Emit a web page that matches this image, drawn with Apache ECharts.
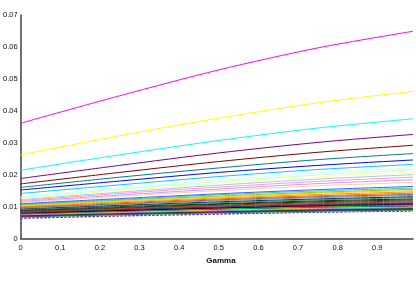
<!DOCTYPE html>
<html><head><meta charset="utf-8">
<script src="https://cdn.jsdelivr.net/npm/echarts@6/dist/echarts.min.js"></script>
<style>html,body{margin:0;padding:0;background:#fff}#c{width:416px;height:282px}</style>
</head><body><div id="c"></div>
<script>
const gamma = [0, 0.25, 0.5, 0.75, 0.99];
const yTicks = [0, 0.01, 0.02, 0.03, 0.04, 0.05, 0.06, 0.07];
const xTicks = [0, 0.1, 0.2, 0.3, 0.4, 0.5, 0.6, 0.7, 0.8, 0.9];

const line01 = [0.0361, 0.0447, 0.0528, 0.0597, 0.0649];
const line02 = [0.0262, 0.0322, 0.0377, 0.0425, 0.0461];
const line03 = [0.0214, 0.0262, 0.0307, 0.0346, 0.0375];
const line04 = [0.0188, 0.0229, 0.0268, 0.0301, 0.0326];
const line05 = [0.0171, 0.0207, 0.0241, 0.0270, 0.0292];
const line06 = [0.0160, 0.0192, 0.0221, 0.0247, 0.0266];
const line07 = [0.0152, 0.0180, 0.0207, 0.0229, 0.0246];
const line08 = [0.0141, 0.0168, 0.0194, 0.0216, 0.0232];
const line09 = [0.0131, 0.0158, 0.0183, 0.0205, 0.0221];
const line10 = [0.0128, 0.0154, 0.0178, 0.0199, 0.0215];
const line11 = [0.0125, 0.0150, 0.0173, 0.0193, 0.0208];
const line12 = [0.0122, 0.0145, 0.0167, 0.0186, 0.0200];
const line13 = [0.0119, 0.0141, 0.0161, 0.0179, 0.0192];
const line14 = [0.0116, 0.0136, 0.0155, 0.0172, 0.0184];
const line15 = [0.0113, 0.0132, 0.0150, 0.0165, 0.0176];
const line16 = [0.0109, 0.0125, 0.0140, 0.0153, 0.0163];
const line17 = [0.0107, 0.0122, 0.0137, 0.0149, 0.0158];
const line18 = [0.0105, 0.0120, 0.0133, 0.0145, 0.0154];
const line19 = [0.0103, 0.0117, 0.0130, 0.0142, 0.0150];
const line20 = [0.0101, 0.0115, 0.0127, 0.0138, 0.0146];
const line21 = [0.0099, 0.0112, 0.0124, 0.0134, 0.0142];
const line22 = [0.0097, 0.0109, 0.0121, 0.0131, 0.0138];
const line23 = [0.0095, 0.0107, 0.0118, 0.0128, 0.0135];
const line24 = [0.0093, 0.0104, 0.0115, 0.0124, 0.0131];
const line25 = [0.0091, 0.0102, 0.0112, 0.0121, 0.0128];
const line26 = [0.0089, 0.0100, 0.0109, 0.0118, 0.0124];
const line27 = [0.0087, 0.0097, 0.0107, 0.0115, 0.0121];
const line28 = [0.0085, 0.0095, 0.0104, 0.0112, 0.0118];
const line29 = [0.0083, 0.0093, 0.0102, 0.0109, 0.0115];
const line30 = [0.0082, 0.0091, 0.0099, 0.0107, 0.0112];
const line31 = [0.0081, 0.0090, 0.0098, 0.0105, 0.0110];
const line32 = [0.0080, 0.0088, 0.0096, 0.0103, 0.0108];
const line33 = [0.0079, 0.0087, 0.0095, 0.0101, 0.0106];
const line34 = [0.0078, 0.0086, 0.0093, 0.0099, 0.0104];
const line35 = [0.0077, 0.0085, 0.0092, 0.0098, 0.0102];
const line36 = [0.0076, 0.0083, 0.0090, 0.0096, 0.0100];
const line37 = [0.0075, 0.0082, 0.0089, 0.0095, 0.0099];
const line38 = [0.0074, 0.0081, 0.0087, 0.0093, 0.0097];
const line39 = [0.0073, 0.0080, 0.0086, 0.0092, 0.0096];
const line40 = [0.0072, 0.0079, 0.0085, 0.0090, 0.0094];
const line41 = [0.0071, 0.0078, 0.0084, 0.0089, 0.0093];
const line42 = [0.0070, 0.0077, 0.0083, 0.0088, 0.0092];
const line43 = [0.0069, 0.0076, 0.0082, 0.0087, 0.0091];
const line44 = [0.0068, 0.0075, 0.0081, 0.0086, 0.0090];
const line45 = [0.0067, 0.0074, 0.0080, 0.0085, 0.0089];
const line46 = [0.0066, 0.0073, 0.0079, 0.0084, 0.0088];
const line47 = [0.0065, 0.0072, 0.0078, 0.0083, 0.0087];
const line48 = [0.0064, 0.0071, 0.0077, 0.0083, 0.0087];
const line49 = [0.0064, 0.0071, 0.0077, 0.0082, 0.0086];
const line50 = [0.0063, 0.0070, 0.0076, 0.0082, 0.0086];

const lines = [line01,line02,line03,line04,line05,line06,line07,line08,line09,line10,
  line11,line12,line13,line14,line15,line16,line17,line18,line19,line20,
  line21,line22,line23,line24,line25,line26,line27,line28,line29,line30,
  line31,line32,line33,line34,line35,line36,line37,line38,line39,line40,
  line41,line42,line43,line44,line45,line46,line47,line48,line49,line50];

const lineColors = ['#FF00FF','#FFFF00','#00FFFF','#800080','#800000','#008080','#0000FF','#00CCFF',
  '#CCFFFF','#CCFFCC','#FFFF99','#99CCFF','#FF99CC','#CC99FF','#FFCC99',
  '#3366FF','#33CCCC','#99CC00','#FFCC00','#FF9900','#FF6600','#666699','#969696',
  '#003366','#339966','#003300','#333300','#993300','#993366','#333399','#333333',
  '#000000','#FF0000','#00FF00','#0000FF','#FFFF00','#FF00FF','#00FFFF','#800000',
  '#008000','#000080','#808000','#800080','#008080','#C0C0C0','#808080',
  '#000080','#FF00FF','#00FFFF','#0000FF'];
const dashedFrom = 46;

const chart = echarts.init(document.getElementById('c'), null, {renderer: 'canvas'});
const series = lines.map((vals, i) => ({
  type: 'line',
  data: gamma.map((g, j) => [g, vals[j]]),
  showSymbol: false,
  smooth: 0.3,
  lineStyle: {color: lineColors[i], width: 1, type: i >= dashedFrom ? [2, 2] : 'solid'},
  z: 100 - i
}));

chart.setOption({
  animation: false,
  backgroundColor: '#fff',
  grid: {left: 20, right: 3, top: 15, bottom: 43.5},
  xAxis: {
    type: 'value', min: 0, max: 0.99, interval: 0.1,
    axisLine: {lineStyle: {color: '#404040', width: 1.5}},
    axisTick: {show: false},
    splitLine: {show: false},
    axisLabel: {fontFamily: 'Liberation Sans', fontSize: 7.5, color: '#111', margin: 5,
      showMaxLabel: true,
      formatter: v => xTicks.find(t => Math.abs(t - v) < 1e-9) !== undefined ? String(xTicks.find(t => Math.abs(t - v) < 1e-9)) : ''}
  },
  yAxis: {
    type: 'value', min: 0, max: 0.07, interval: 0.01,
    axisLine: {show: true, lineStyle: {color: '#404040', width: 1.5}},
    axisTick: {show: false},
    splitLine: {show: false},
    axisLabel: {fontFamily: 'Liberation Sans', fontSize: 7.5, color: '#111', margin: 3,
      formatter: v => String(yTicks.find(t => Math.abs(t - v) < 1e-9) ?? '')}
  },
  graphic: [{
    type: 'text', x: 221, y: 261,
    style: {text: 'Gamma', fontFamily: 'Liberation Sans', fontSize: 8, fontWeight: 'bold',
      fill: '#111', align: 'center', verticalAlign: 'middle'}
  }],
  series: series
});
</script>
</body></html>
